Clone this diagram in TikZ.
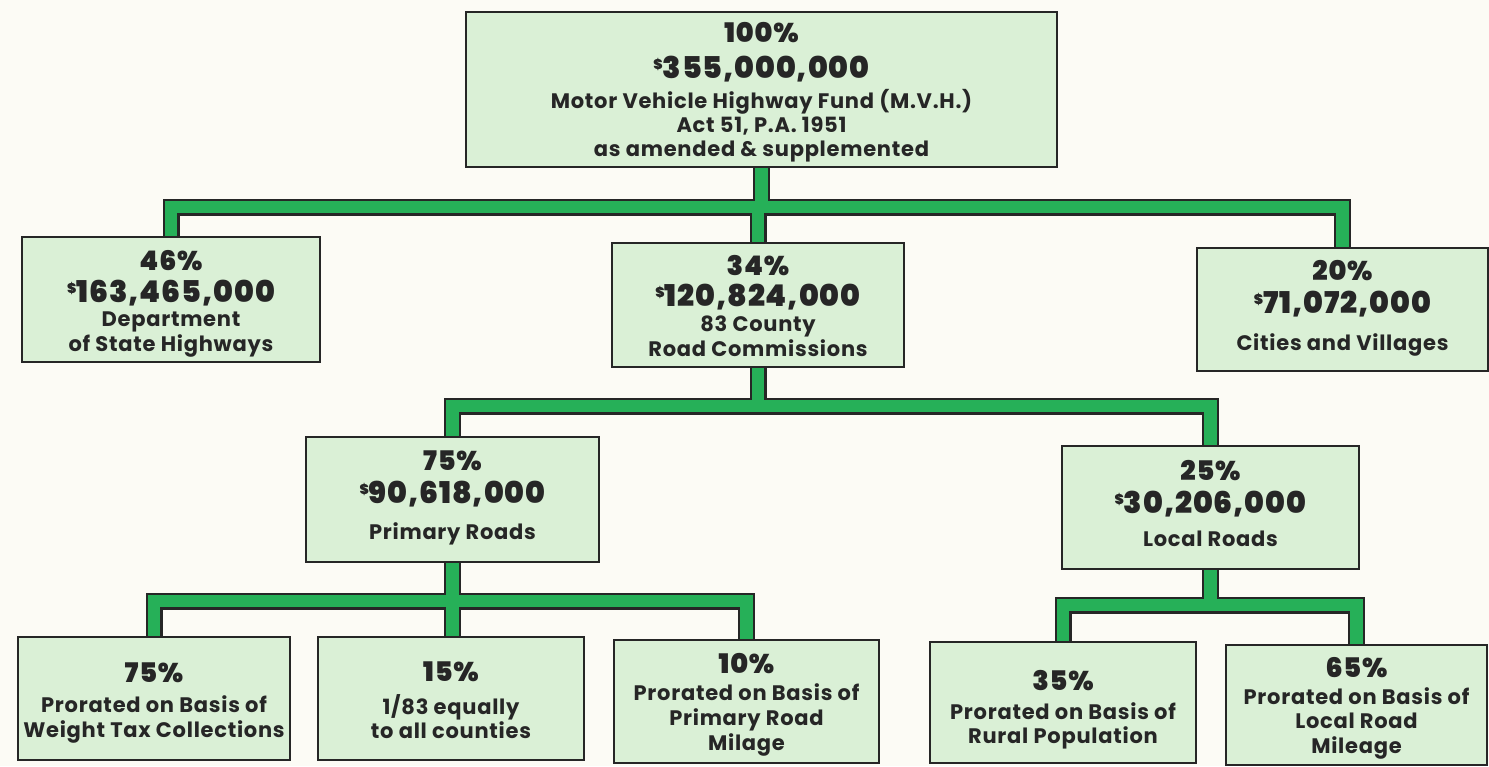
\documentclass[tikz,border=0pt]{standalone}
\usepackage{fontspec}
\setmainfont{Poppins}
\newfontfamily\heavyfont{Poppins Black}[LetterSpace=3]
\newfontfamily\descfont{Poppins}[LetterSpace=3.5]
\usetikzlibrary{calc}
\definecolor{paper}{RGB}{252,251,245}
\definecolor{boxfill}{RGB}{218,240,214}
\definecolor{ink}{RGB}{38,38,38}
\definecolor{band}{RGB}{38,176,88}
\newcommand\mkstrut[2]{\rule[-#2]{0pt}{\dimexpr#1+#2\relax}}
% \pct{strut height}{strut depth}{text}
\newcommand\pct[3]{{\heavyfont\fontsize{27}{27}\selectfont\mkstrut{#1}{#2}#3}}
\newcommand\amt[2][11pt]{{\heavyfont\fontsize{30}{30}\selectfont\mkstrut{22pt}{#1}{\fontsize{14}{14}\selectfont\raisebox{9pt}{\$}}#2}}
\newcommand\dsc[1]{{\descfont\bfseries\fontsize{21}{21}\selectfont\mkstrut{16pt}{8pt}#1}}
\pgfdeclarelayer{bg}
\pgfsetlayers{bg,main}
\begin{document}
\begin{tikzpicture}[x=1pt,y=-1pt,
  box/.style={draw=ink, line width=1.8pt, fill=boxfill, text=ink, align=center,
    inner sep=0pt, font={\baselineskip=0pt\lineskip=0pt\lineskiplimit=0pt}},
  bandout/.style={draw=ink, line width=17pt},
  bandin/.style={draw=band, line width=12.5pt}]
\useasboundingbox (0,0) rectangle (1489,766);

\node[box, minimum width=591pt, minimum height=155pt] (top) at (761.5,89.5)
  {\pct{28pt}{13pt}{100\%}\\\amt[11pt]{355,000,000}\\\dsc{Motor Vehicle Highway Fund (M.V.H.)}\\\dsc{Act 51, P.A. 1951}\\\dsc{as amended \& supplemented}};
\node[box, minimum width=298pt, minimum height=125pt] (dept) at (171,299.5)
  {\pct{31pt}{9pt}{46\%}\\\amt[8pt]{163,465,000}\\\dsc{Department}\\\dsc{of State Highways}};
\node[box, minimum width=292pt, minimum height=124pt] (county) at (758,305)
  {\pct{30pt}{9pt}{34\%}\\\amt[9pt]{120,824,000}\\\dsc{83 County}\\\dsc{Road Commissions}};
\node[box, minimum width=291pt, minimum height=123pt] (cities) at (1342.5,309.5)
  {\pct{19pt}{10pt}{20\%}\\\amt[20pt]{71,072,000}\\\dsc{Cities and Villages}};
\node[box, minimum width=293pt, minimum height=125pt] (primary) at (452.5,499.5)
  {\pct{19pt}{10pt}{75\%}\\\amt[20pt]{90,618,000}\\\dsc{Primary Roads}};
\node[box, minimum width=297pt, minimum height=123pt] (local) at (1210.5,507.5)
  {\pct{19pt}{10pt}{25\%}\\\amt[17pt]{30,206,000}\\\dsc{Local Roads}};
\node[box, minimum width=272pt, minimum height=123pt] (b1) at (154,698.5)
  {\pct{31pt}{13pt}{75\%}\\\dsc{Prorated on Basis of}\\\dsc{Weight Tax Collections}};
\node[box, minimum width=266pt, minimum height=123pt] (b2) at (451,698.5)
  {\pct{31pt}{13pt}{15\%}\\\dsc{1/83 equally}\\\dsc{to all counties}};
\node[box, minimum width=265pt, minimum height=123pt] (b3) at (746.5,701.5)
  {\pct{29pt}{10pt}{10\%}\\\dsc{Prorated on Basis of}\\\dsc{Primary Road}\\\dsc{Milage}};
\node[box, minimum width=266pt, minimum height=121pt] (b4) at (1063,702.5)
  {\pct{37pt}{12pt}{35\%}\\\dsc{Prorated on Basis of}\\\dsc{Rural Population}};
\node[box, minimum width=261pt, minimum height=120pt] (b5) at (1356.5,705)
  {\pct{29pt}{10pt}{65\%}\\\dsc{Prorated on Basis of}\\\dsc{Local Road}\\\dsc{Mileage}};

\coordinate (barA) at (0,207);
\coordinate (barB) at (0,406);
\coordinate (barC) at (0,601);
\coordinate (barD) at (0,605);

\begin{pgfonlayer}{bg}
\fill[paper] (0,0) rectangle (1489,766);
\foreach \s in {bandout,bandin}{
  \draw[\s] (dept.north) |- (cities.north |- barA) -- (cities.north);
  \draw[\s] (top.south) -- (top.south |- barA);
  \draw[\s] (county.north) -- (county.north |- barA);
  \draw[\s] (primary.north) |- (local.north |- barB) -- (local.north);
  \draw[\s] (county.south) -- (county.south |- barB);
  \draw[\s] (b1.north) |- (b3.north |- barC) -- (b3.north);
  \draw[\s] (primary.south) -- (primary.south |- b2.north);
  \draw[\s] (b4.north) |- (b5.north |- barD) -- (b5.north);
  \draw[\s] (local.south) -- (local.south |- barD);
}
\end{pgfonlayer}
\end{tikzpicture}
\end{document}
